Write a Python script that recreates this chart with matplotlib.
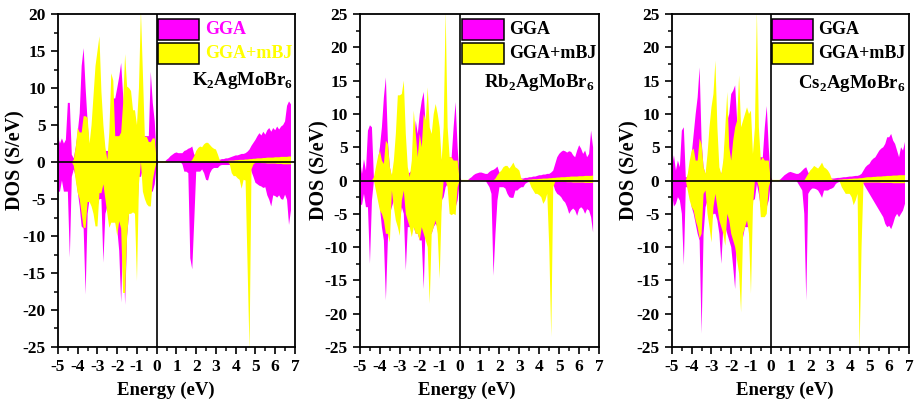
import numpy as np
import matplotlib
matplotlib.use("Agg")
import matplotlib.pyplot as plt
from matplotlib.patches import Rectangle
from matplotlib.ticker import MultipleLocator

plt.rcParams['font.family'] = 'Liberation Serif'
plt.rcParams['font.weight'] = 'bold'
plt.rcParams['axes.unicode_minus'] = False
plt.rcParams['mathtext.fontset'] = 'custom'
plt.rcParams['mathtext.rm'] = 'Liberation Serif:bold'
plt.rcParams['mathtext.bf'] = 'Liberation Serif:bold'

MAGENTA = '#FF00FF'
YELLOW = '#FFFF00'
nan = np.nan

# energy grid, -5.0 ... 6.9 eV in 0.1 eV steps (120 points)
energy = np.round(np.linspace(-5.0, 6.9, 120), 1)

# ---- K2AgMoBr6 ----
k_gga_up = [
    3.5, 2.5, 3.2, 2.5, 3.0, 8.0, 8.0, 1.0, 0.5, 2.0,
    4.0, 6.6, 13, 15.4, 10, 5.5, 1.5, 0.5, 0.5, 0.5,
    0.5, 0.5, 0.5, 1.0, 1.5, 1.5, 1.5, 3.0, 8.6, 8.6,
    10, 11.5, 13.4, 9, 6, 5, 6, 5, 4, 5,
    4, 3, 2, 3, 3.5, 3.5, 3.5, 12.2, 8, 5.5,
    0.5, 0, 0, 0, 0, 0.3, 0.5, 0.8, 1.0, 1.2,
    1.3, 1.2, 1.2, 1.2, 1.5, 1.6, 1.8, 1.9, 2.1, 1.0,
    1.0, 1.0, 0.8, 0.7, 0.6, 0.6, 0.6, 0.6, 0.5, 0.5,
    0.4, 0.3, 0.3, 0.4, 0.4, 0.5, 0.5, 0.6, 0.7, 0.8,
    0.9, 0.9, 1.0, 1.1, 1.1, 1.2, 1.4, 1.7, 2.2, 2.6,
    3.0, 3.5, 3.9, 3.6, 4.1, 3.7, 4.3, 4.6, 4.1, 4.6,
    4.3, 4.8, 4.4, 4.8, 5.0, 5.5, 7.6, 8.2, 7.8, nan,
]
k_mbj_up = [
    0, 0, 0, 0, 0, 0, 0, 0, 0.3, 2.0,
    4.6, 4.0, 4.0, 6.2, 6.2, 6.0, 2.5, 5, 9, 13,
    15, 17, 9.5, 5, 2.0, 0.3, 4, 12, 11, 3.5,
    3.5, 3.5, 4, 8, 14.6, 10.2, 10, 9.6, 7, 7,
    5, 10, 20.5, 12, 3.4, 3.4, 2.7, 2.7, 3.2, 3.2,
    0.1, 0.1, 0.1, 0.1, 0.1, 0.1, 0, 0, 0, 0,
    0, 0, 0, 0, 0, 0, 0, 0, 0.3, 0.8,
    1.5, 1.9, 2.1, 2.0, 2.4, 2.6, 2.6, 2.3, 2.0, 1.8,
    1.7, 1.0, 0.2, 0.1, 0.1, 0.15, 0.15, 0.2, 0.2, 0.2,
    0.25, 0.25, 0.3, 0.3, 0.3, 0.35, 0.35, 0.4, 0.4, 0.45,
    0.45, 0.5, 0.5, 0.5, 0.55, 0.55, 0.6, 0.6, 0.6, 0.6,
    0.65, 0.65, 0.65, 0.7, 0.7, 0.7, 0.7, 0.75, 0.75, nan,
]
k_gga_dn = [
    -4.0, -4.0, -2.5, -4.0, -4.0, -4.0, -12.9, -2, -1, -2,
    -4, -6, -8.7, -9, -17.9, -7, -5, -4, -4, -5,
    -6, -5, -5, -13.6, -7, -6, -7, -7, -8, -8,
    -9, -12, -19, -10, -19.3, -10, -7, -6, -6, -6,
    -8, -2, -2, -1, -3, -4, -4, -4, -4, -3,
    -0.5, 0, 0, 0, 0, 0, 0, 0, 0, 0,
    0, 0, 0, -0.3, -1.3, -1.3, -1.5, -13, -14.5, -8,
    -1.3, -1.3, -1.3, -1.0, -1.5, -2.4, -2.5, -1.5, -1.0, -0.8,
    -0.8, -0.8, -0.5, -0.4, -0.4, -0.4, -0.4, -0.4, -0.4, -0.4,
    -0.4, -0.4, -0.4, -0.4, -0.4, -0.4, -0.4, -0.5, -1.3, -2.0,
    -2.8, -3.0, -3.2, -3.3, -3.5, -3.4, -4.5, -5.1, -6.0, -4.5,
    -4.6, -4.8, -4.5, -5.0, -5.1, -4.4, -5.1, -8.5, -6.5, nan,
]
k_mbj_dn = [
    0, 0, 0, 0, 0, 0, 0, 0, -0.5, -2.5,
    -4.2, -5, -7, -8.9, -8.9, -5.4, -5.4, -6, -7, -8.7,
    -8.7, -4.2, -4.2, -3, -5, -7, -8.9, -8.2, -8.2, -8.2,
    -10, -8, -9, -17.7, -17.7, -10, -7, -7, -6.8, -7,
    -16.1, -3, 0, -4, -5, -5.7, -6, -6, -2.5, -1,
    0, -0.1, -0.1, -0.1, -0.1, -0.1, 0, 0, 0, 0,
    0, 0, 0, 0, 0, 0, 0, 0, 0, 0,
    0, 0, 0, 0, 0, 0, 0, 0, 0, 0,
    0, 0, 0, 0, 0, 0, 0, -0.3, -1.5, -1.9,
    -1.9, -2.2, -2.4, -3.6, -2.4, -2.5, -14, -25.5, -1, -0.3,
    -0.1, -0.1, -0.1, -0.15, -0.15, -0.15, -0.2, -0.2, -0.2, -0.2,
    -0.2, -0.25, -0.25, -0.25, -0.3, -0.3, -0.3, -0.3, -0.3, nan,
]

# ---- Rb2AgMoBr6 ----
rb_gga_up = [
    3.2, 1.0, 3.2, 1.5, 7.5, 8.3, 8.0, 0.3, 1.0, 3.0,
    5, 8, 12.5, 15.5, 6, 2, 0.5, 0.5, 0.5, 0.5,
    0.5, 0.5, 0.5, 0.8, 1.0, 1.2, 1.5, 5, 9, 7,
    10, 12, 13.3, 8, 6, 5, 6, 5, 4, 5,
    4, 3, 2, 3, 3.5, 3.5, 3.5, 8, 11.8, 5,
    0.5, 0, 0, 0, 0, 0.3, 0.5, 0.8, 1.0, 1.1,
    1.2, 1.2, 1.1, 1.0, 1.0, 1.3, 1.5, 1.6, 1.8, 2.1,
    1.2, 1.0, 0.8, 0.7, 0.6, 0.6, 0.6, 0.5, 0.5, 0.4,
    0.3, 0.3, 0.3, 0.4, 0.4, 0.5, 0.5, 0.6, 0.6, 0.7,
    0.8, 0.8, 0.9, 0.9, 1.0, 1.0, 1.2, 1.5, 2.5, 3.5,
    4.0, 4.3, 4.5, 4.4, 4.2, 4.4, 4.3, 3.8, 3.5, 4.5,
    5.3, 4.8, 4.0, 4.5, 3.5, 4.0, 7.5, 5.0, nan, nan,
]
rb_mbj_up = [
    0, 0, 0, 0, 0, 0, 0, 0.5, 2.0, 3.5,
    4.5, 3, 2.5, 6, 5.5, 2, 0.8, 3, 7, 12.8,
    12.8, 13, 15, 7, 2, 0.5, 3, 10.5, 7, 3.5,
    7, 5, 10, 9, 14, 8, 7, 10, 11.5, 10,
    8, 3, 8, 25.5, 8, 3.5, 3.5, 3, 3, 3,
    0.1, 0.1, 0.1, 0.1, 0.1, 0.1, 0, 0, 0, 0,
    0, 0, 0, 0, 0, 0, 0, 0, 0.3, 0.8,
    1.2, 1.5, 2.0, 2.2, 2.2, 1.8, 2.2, 2.7, 2.0, 1.8,
    1.5, 0.3, 0.1, 0.1, 0.1, 0.15, 0.15, 0.2, 0.2, 0.2,
    0.25, 0.25, 0.3, 0.3, 0.3, 0.35, 0.35, 0.4, 0.4, 0.45,
    0.45, 0.5, 0.5, 0.5, 0.55, 0.55, 0.6, 0.6, 0.6, 0.6,
    0.65, 0.65, 0.65, 0.7, 0.7, 0.7, 0.7, 0.75, nan, nan,
]
rb_gga_dn = [
    -3.5, -3.7, -2, -4, -4, -12.5, -3, 0, -0.5, -2,
    -4, -7, -9, -18, -9, -5, -4, -3, -3, -5,
    -6, -4, -5, -13.5, -7, -7, -7, -7, -8, -8,
    -9, -9, -16.3, -6, -9, -8, -8, -7, -6.5, -7,
    -8, -3, -2.5, -1, -0.5, -3, -4, -4, -4, -3,
    -0.5, 0, 0, 0, 0, 0, 0, 0, 0, 0,
    0, 0, 0, 0, -0.5, -1, -2, -14.3, -8, -3,
    -1, -1, -1, -1.2, -2, -2.5, -2.6, -2.6, -1.5, -1.5,
    -1.2, -1, -1, -0.5, -0.3, -0.2, -0.2, -0.2, -0.2, -0.2,
    -0.2, -0.2, -0.2, -0.2, -0.2, -0.2, -0.2, -0.5, -1.5, -2,
    -2.2, -2.5, -3, -3.3, -4, -5, -4.5, -4.2, -4.5, -5.3,
    -4.3, -4, -4.3, -5, -4.3, -4.5, -5.5, -7.8, nan, nan,
]
rb_mbj_dn = [
    0, 0, 0, 0, 0, 0, 0, 0, -1.5, -3,
    -4.5, -5, -6, -8, -8, -9.3, -1.5, -4, -6, -7,
    -8.3, -3, -1.5, -5, -6, -7, -8.5, -7, -8, -8,
    -9, -7, -8, -9, -10, -18.5, -8, -7, -6, -8,
    -14.8, -4, 0, 0, -1, -5, -5.2, -5, -5.2, -1,
    0, -0.1, -0.1, -0.1, -0.1, 0, 0, 0, 0, 0,
    0, 0, 0, 0, 0, 0, 0, 0, 0, 0,
    0, 0, 0, 0, 0, 0, 0, 0, 0, 0,
    0, 0, 0, 0, 0, -0.2, -1, -1.5, -2, -2,
    -2.2, -2.5, -3.5, -3, -2, -10, -23.5, -1, -0.2, -0.2,
    -0.2, -0.2, -0.2, -0.2, -0.25, -0.25, -0.25, -0.3, -0.3, -0.3,
    -0.3, -0.3, -0.3, -0.35, -0.35, -0.35, -0.35, -0.35, nan, nan,
]

# ---- Cs2AgMoBr6 ----
cs_gga_up = [
    2.0, 3.8, 1.5, 3.0, 2.0, 7.5, 8.0, 0.5, 0.5, 2.0,
    4, 7, 10, 12.5, 17, 6, 2, 1, 1, 1,
    1, 1, 1, 1, 1, 1, 2, 6, 9, 10,
    13, 13.5, 14.3, 9, 6, 5, 6, 5, 4, 5,
    4, 3, 2, 3, 3.5, 3.5, 3.5, 8, 11.2, 5,
    0.5, 0, 0, 0, 0, 0.2, 0.5, 0.8, 1.0, 1.2,
    1.3, 1.2, 1.1, 1.0, 1.0, 1.2, 1.5, 1.8, 2.0, 1.2,
    1.0, 0.8, 0.8, 0.7, 0.6, 0.6, 0.6, 0.5, 0.5, 0.4,
    0.3, 0.3, 0.3, 0.35, 0.4, 0.4, 0.45, 0.5, 0.5, 0.55,
    0.6, 0.6, 0.65, 0.7, 0.7, 0.8, 1.0, 1.5, 2.0, 2.3,
    2.5, 3.0, 3.3, 3.5, 4.0, 4.5, 4.8, 5.0, 5.5, 6.5,
    6.5, 7.0, 6.0, 5.5, 4.5, 3.5, 5.0, 4.5, 5.8, nan,
]
cs_mbj_up = [
    0, 0, 0, 0, 0, 0, 0, 0, 1.0, 3.0,
    4.5, 4.8, 3, 3, 6.3, 5.5, 2, 1, 4, 8,
    11, 13, 18, 8, 2, 1, 3, 8, 13.3, 5,
    3, 6, 8, 9, 15.8, 8, 9, 10, 11, 10,
    10.5, 4, 8, 25.5, 8, 3, 3.5, 3, 3, 3,
    0.1, 0.1, 0.1, 0.1, 0.1, 0.1, 0, 0, 0, 0,
    0, 0, 0, 0, 0, 0, 0, 0, 0.5, 1.0,
    1.5, 1.8, 2.2, 2.0, 1.8, 2.2, 2.7, 2.0, 1.8, 1.5,
    1.0, 0.2, 0.1, 0.1, 0.1, 0.15, 0.15, 0.2, 0.2, 0.2,
    0.25, 0.25, 0.3, 0.3, 0.3, 0.35, 0.35, 0.4, 0.45, 0.5,
    0.5, 0.5, 0.55, 0.55, 0.6, 0.6, 0.6, 0.65, 0.65, 0.7,
    0.7, 0.7, 0.75, 0.75, 0.75, 0.8, 0.8, 0.8, 0.8, nan,
]
cs_gga_dn = [
    -2, -3.9, -3.5, -2.5, -3, -5, -12.7, -1, -1, -2,
    -4, -5, -6.5, -8, -9, -23, -8, -4, -3, -5,
    -6, -5, -5, -6, -8, -12.5, -7, -7, -8, -9,
    -10, -13, -16.3, -8, -8, -9, -8.5, -7, -7, -7,
    -6, -3, -2.8, -0.5, -2, -4, -4, -4, -4, -3,
    -0.5, 0, 0, 0, 0, 0, 0, 0, 0, 0,
    0, 0, 0, 0, -0.5, -1, -1.5, -5, -18, -2,
    -1.5, -1.2, -1.2, -1.3, -1.5, -2, -2.6, -1.5, -1.5, -1.5,
    -1.3, -1.2, -1, -0.5, -0.3, -0.2, -0.2, -0.2, -0.2, -0.2,
    -0.2, -0.2, -0.2, -0.2, -0.2, -0.2, -0.2, -0.5, -1.0, -1.5,
    -2.0, -2.5, -3.0, -3.5, -4.0, -4.5, -5.0, -5.5, -6.5, -7.0,
    -6.8, -7.3, -6.5, -5.5, -5.0, -5.5, -5.0, -4.5, -3.5, nan,
]
cs_mbj_dn = [
    0, 0, 0, 0, 0, 0, 0, 0, -1.5, -3,
    -4, -4.5, -6, -7, -8.7, -8, -2, -1.5, -5, -7,
    -9.3, -4, -2, -4, -6, -7, -8, -9.8, -5, -6,
    -8, -9, -10, -12, -14, -19.8, -8, -7, -6, -8,
    -17, -4, 0, 0, -1, -5.5, -5.5, -5.5, -5, -1,
    0, -0.1, -0.1, -0.1, -0.1, 0, 0, 0, 0, 0,
    0, 0, 0, 0, 0, 0, 0, 0, 0, 0,
    0, 0, 0, 0, 0, 0, 0, 0, 0, 0,
    0, 0, 0, 0, 0, -0.2, -1, -1.5, -2, -2,
    -2, -2.5, -3.7, -3, -2, -25.5, -10, -0.3, -0.3, -0.3,
    -0.3, -0.3, -0.3, -0.3, -0.3, -0.3, -0.35, -0.35, -0.35, -0.35,
    -0.35, -0.35, -0.4, -0.4, -0.4, -0.4, -0.4, -0.4, -0.4, nan,
]

compounds = [r'K$_2$AgMoBr$_6$', r'Rb$_2$AgMoBr$_6$', r'Cs$_2$AgMoBr$_6$']
y_tops = [20, 25, 25]
legend_labels = ['GGA', 'GGA+mBJ']

series = [
    (k_gga_up, k_gga_dn, k_mbj_up, k_mbj_dn),
    (rb_gga_up, rb_gga_dn, rb_mbj_up, rb_mbj_dn),
    (cs_gga_up, cs_gga_dn, cs_mbj_up, cs_mbj_dn),
]

# layout per panel (axes fractions)
lefts = [0.0633, 0.393, 0.7336]
widths = [0.2587, 0.261, 0.2587]
bottom, height = 0.139, 0.826
ylabel_xy = [(-0.139, 0.56), (-0.126, 0.53), (-0.139, 0.53)]
xlabel_x = [0.455, 0.445, 0.477]
legend_x = [0.422, 0.427, 0.422]
legend_w = [0.173, 0.176, 0.173]
legend_tx = [0.62, 0.623, 0.616]
formula_xy = [(0.992, 0.787), (0.98, 0.781), (0.983, 0.778)]

fig = plt.figure(figsize=(9.16, 4.03), dpi=100)

for i in range(3):
    ax = fig.add_axes([lefts[i], bottom, widths[i], height])
    gga_up, gga_dn, mbj_up, mbj_dn = [np.array(s, dtype=float) for s in series[i]]

    ax.fill_between(energy, 0, gga_up, facecolor=MAGENTA, lw=0)
    ax.fill_between(energy, 0, gga_dn, facecolor=MAGENTA, lw=0)
    ax.fill_between(energy, 0, mbj_up, facecolor=YELLOW, lw=0)
    ax.fill_between(energy, 0, mbj_dn, facecolor=YELLOW, lw=0)

    ax.axhline(0, color='k', lw=1.2)
    ax.axvline(0, color='k', lw=1.2)

    ax.set_xlim(-5, 7)
    ax.set_ylim(-25, y_tops[i])
    ax.xaxis.set_major_locator(MultipleLocator(1))
    ax.xaxis.set_minor_locator(MultipleLocator(0.5))
    ax.yaxis.set_major_locator(MultipleLocator(5))
    ax.yaxis.set_minor_locator(MultipleLocator(2.5))
    ax.tick_params(which='major', direction='out', length=5, width=1.2, labelsize=12.5, pad=4)
    ax.tick_params(which='minor', direction='out', length=3, width=1.1)
    for lab in ax.get_xticklabels() + ax.get_yticklabels():
        lab.set_fontweight('bold')
    for sp in ax.spines.values():
        sp.set_linewidth(1.3)

    ax.set_xlabel('Energy (eV)', fontsize=13.5, fontweight='bold')
    ax.set_ylabel('DOS (S/eV)', fontsize=14.5, fontweight='bold')
    ax.xaxis.set_label_coords(xlabel_x[i], -0.103)
    ax.yaxis.set_label_coords(*ylabel_xy[i])

    # legend boxes drawn by hand to match the original placement
    text_colors = [MAGENTA, YELLOW] if i == 0 else ['k', 'k']
    box_tops = [0.985, 0.913]
    for j, col in enumerate([MAGENTA, YELLOW]):
        ax.add_patch(Rectangle((legend_x[i], box_tops[j] - 0.062), legend_w[i], 0.062,
                               transform=ax.transAxes, facecolor=col, edgecolor='k',
                               lw=1.1, clip_on=False, zorder=5))
        ax.text(legend_tx[i], box_tops[j] - 0.031, legend_labels[j], transform=ax.transAxes,
                ha='left', va='center', fontsize=13, fontweight='bold',
                color=text_colors[j], zorder=5)

    ax.text(formula_xy[i][0], formula_xy[i][1], compounds[i], transform=ax.transAxes,
            ha='right', va='baseline', fontsize=13.5, fontweight='bold')

fig.savefig('out.png', dpi=100)
